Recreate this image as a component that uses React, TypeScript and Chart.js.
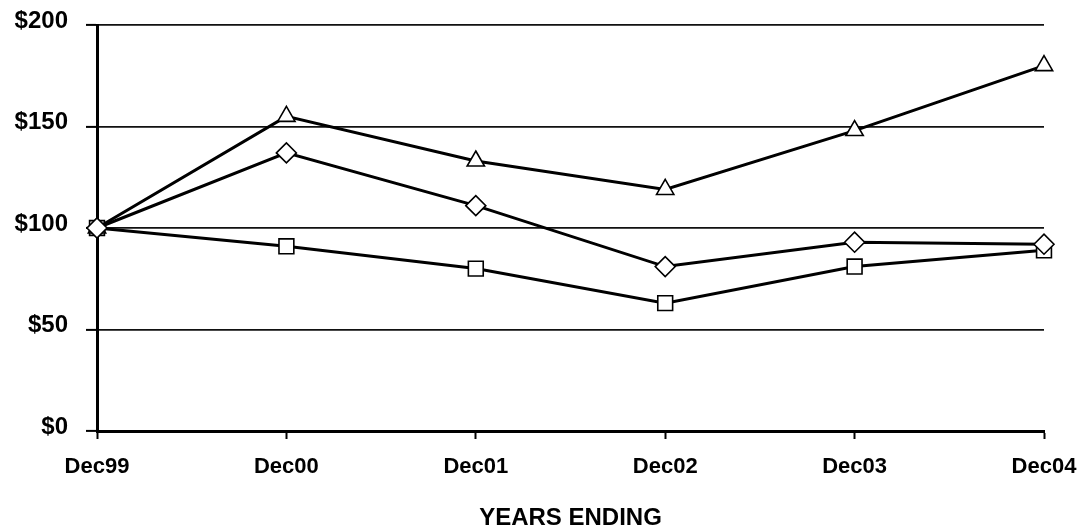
import { useEffect, useRef } from "react";
import { Chart, registerables } from "chart.js";

Chart.register(...registerables);

const categories = ["Dec99", "Dec00", "Dec01", "Dec02", "Dec03", "Dec04"];
const triangleSeries = [100, 155, 133, 119, 148, 180];
const diamondSeries = [100, 137, 111, 81, 93, 92];
const squareSeries = [100, 91, 80, 63, 81, 89];
const yTickValues = [0, 50, 100, 150, 200];
const xAxisTitle = "YEARS ENDING";

const FONT = "'Liberation Sans', Arial, Helvetica, sans-serif";

export default function App() {
  const canvasRef = useRef<HTMLCanvasElement | null>(null);

  useEffect(() => {
    document.body.style.margin = "0";
    const canvas = canvasRef.current;
    if (!canvas) return;

    const mkDataset = (data: number[], style: string, radius: number) => ({
      data,
      borderColor: "#000",
      borderWidth: 3,
      backgroundColor: "#fff",
      pointStyle: style,
      pointRadius: radius,
      pointHoverRadius: radius,
      pointBackgroundColor: "#fff",
      pointBorderColor: "#000",
      pointBorderWidth: 1.6,
      tension: 0,
      fill: false,
    });

    const chart = new Chart(canvas, {
      type: "line",
      data: {
        labels: categories,
        datasets: [
          mkDataset(diamondSeries, "rectRot", 10),
          mkDataset(triangleSeries, "triangle", 10),
          mkDataset(squareSeries, "rect", 10.5),
        ],
      },
      options: {
        animation: false,
        responsive: true,
        maintainAspectRatio: false,
        layout: { padding: { top: 25, right: 38, left: 0, bottom: 0 } },
        plugins: {
          legend: { display: false },
          tooltip: { enabled: false },
        },
        scales: {
          x: {
            type: "category",
            offset: false,
            grid: {
              display: true,
              drawOnChartArea: false,
              drawTicks: true,
              tickLength: 8,
              tickWidth: 2,
              tickColor: "#000",
            },
            border: { display: true, color: "#000", width: 3 },
            ticks: {
              color: "#000",
              font: { family: FONT, size: 22, weight: "bold" },
              maxRotation: 0,
              autoSkip: false,
              padding: 15,
            },
            title: {
              display: true,
              text: xAxisTitle,
              color: "#000",
              font: { family: FONT, size: 24, weight: "bold", lineHeight: 1.1 },
              padding: { top: 0, bottom: 0 },
            },
            afterFit: (scale: any) => {
              scale.height = 101;
              scale.paddingLeft = 0;
              scale.paddingRight = 0;
            },
          },
          y: {
            min: 0,
            max: 200,
            afterBuildTicks: (scale: any) => {
              scale.ticks = yTickValues.map((v) => ({ value: v }));
            },
            grid: {
              display: true,
              color: "#111",
              lineWidth: 1.8,
              drawTicks: true,
              tickLength: 11,
              tickWidth: 2,
              tickColor: "#000",
            },
            border: { display: true, color: "#000", width: 3 },
            ticks: {
              color: "#000",
              font: { family: FONT, size: 24, weight: "bold" },
              padding: 18,
              labelOffset: -4,
              callback: (v: any) => "$" + v,
            },
            afterFit: (scale: any) => {
              scale.width = 97;
              scale.paddingTop = 0;
              scale.paddingBottom = 0;
            },
          },
        },
      },
    });

    return () => chart.destroy();
  }, []);

  return (
    <div style={{ width: 1082, height: 532, position: "relative" }}>
      <canvas ref={canvasRef} />
    </div>
  );
}
